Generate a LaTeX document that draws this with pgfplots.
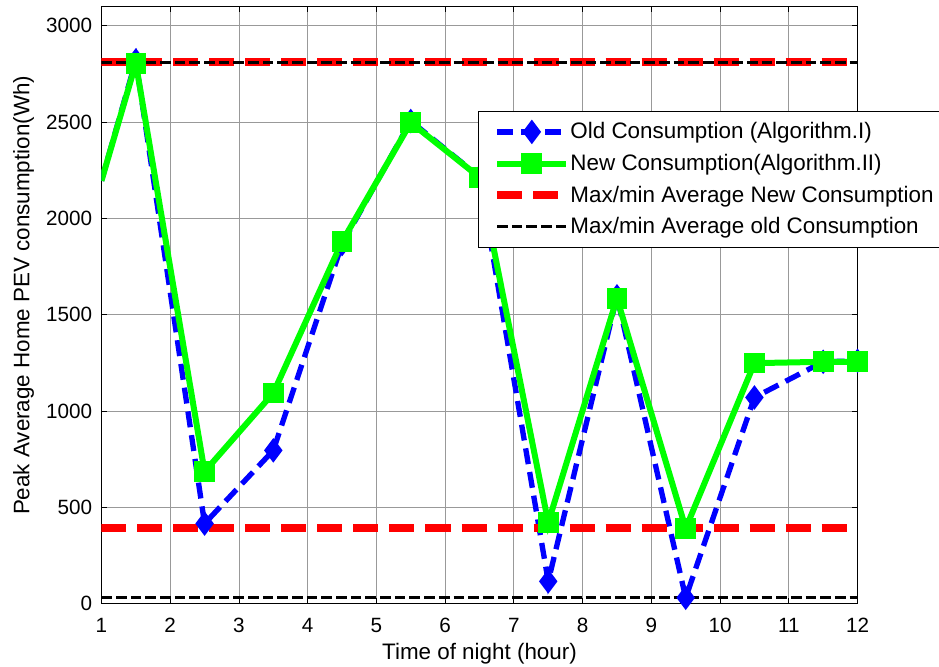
\documentclass[border=0pt]{standalone}
\usepackage{pgfplots}
\pgfplotsset{compat=1.18}
\usepackage{fontspec}
\setmainfont{Liberation Sans}
\definecolor{mblue}{RGB}{0,0,255}
\definecolor{mgreen}{RGB}{0,255,0}
\definecolor{mred}{RGB}{255,0,0}
\begin{document}
\begin{tikzpicture}
\begin{axis}[
  scale only axis, width=567pt, height=447.75pt,
  xmin=1, xmax=12, ymin=0, ymax=3100,
  xtick={1,2,3,4,5,6,7,8,9,10,11,12},
  ytick={0,500,1000,1500,2000,2500,3000},
  grid=major, major grid style={black!40, line width=0.6pt},
  axis line style={line width=0.75pt},
  tick align=inside, major tick length=4pt,
  every tick/.style={black, line width=0.6pt},
  /pgf/number format/assume math mode=true,
  /pgf/number format/1000 sep={},
  tick label style={font=\fontsize{15.5}{18}\selectfont},
  xticklabel style={anchor=base, yshift=-21.4pt},
  yticklabel style={anchor=east, inner sep=0pt, xshift=-6.75pt},
  label style={font=\fontsize{16.8}{20}\selectfont},
  xlabel={Time of night (hour)},
  ylabel={Peak Average Home PEV consumption(Wh)},
  xlabel style={at={(axis description cs:0.5,-0.0946)}, anchor=base},
  ylabel style={at={(axis description cs:-0.0952,0.516)}, anchor=base},
  legend style={at={(axis description cs:0.498,0.825)}, anchor=north west,
    draw=black, line width=0.75pt, fill=white,
    font=\fontsize{16.8}{20}\selectfont,
    inner xsep=11pt, inner ysep=6.1pt, row sep=5.25pt,
    nodes={inner sep=0pt, text height=14.5pt, text depth=4pt},
    /tikz/every odd column/.append style={column sep=0pt}},
  legend cell align=left,
  legend image code/.code={\draw[#1, mark indices={2}] plot coordinates {(0pt,0pt) (26pt,0pt) (52pt,0pt)};},
]
\addplot[mblue, line width=4pt, dash pattern=on 12pt off 6pt,
  mark=diamond*, mark size=8pt, mark indices={2,3,4,5,6,7,8,9,10,11,12,13},
  mark options={solid, fill=mblue, line width=1.5pt}]
  coordinates {(1,2195) (1.5,2820) (2.5,415) (3.5,795) (4.5,1866) (5.5,2505) (6.5,2215) (7.5,115) (8.5,1595) (9.5,30) (10.5,1070) (11.5,1255) (12,1260)};
\addlegendentry{Old Consumption (Algorithm.I)}
\addplot[mgreen, line width=4.5pt, solid,
  mark=square*, mark size=6.5pt, mark indices={2,3,4,5,6,7,8,9,10,11,12,13},
  mark options={solid, fill=mgreen, line width=2.5pt}]
  coordinates {(1,2195) (1.5,2805) (2.5,685) (3.5,1093) (4.5,1878) (5.5,2497) (6.5,2213) (7.5,420) (8.5,1585) (9.5,390) (10.5,1248) (11.5,1255) (12,1255)};
\addlegendentry{New Consumption(Algorithm.II)}
\addplot[mred, line width=6pt, dash pattern=on 18.75pt off 8.25pt, mark=none]
  coordinates {(1,2810) (12,2810)};
\addlegendentry{Max/min Average New Consumption}
\addplot[mred, line width=6pt, dash pattern=on 18.75pt off 8.25pt, mark=none, forget plot]
  coordinates {(1,390) (12,390)};
\addplot[black, line width=2.25pt, dash pattern=on 8pt off 3pt, mark=none]
  coordinates {(1,2810) (12,2810)};
\addlegendentry{Max/min Average old Consumption}
\addplot[black, line width=2.25pt, dash pattern=on 8pt off 3pt, mark=none, forget plot]
  coordinates {(1,30) (12,30)};
\end{axis}
\pgfresetboundingbox
\path[use as bounding box] (-76.1pt,-47.6pt) rectangle (628.1pt,452.6pt);
\end{tikzpicture}
\end{document}
